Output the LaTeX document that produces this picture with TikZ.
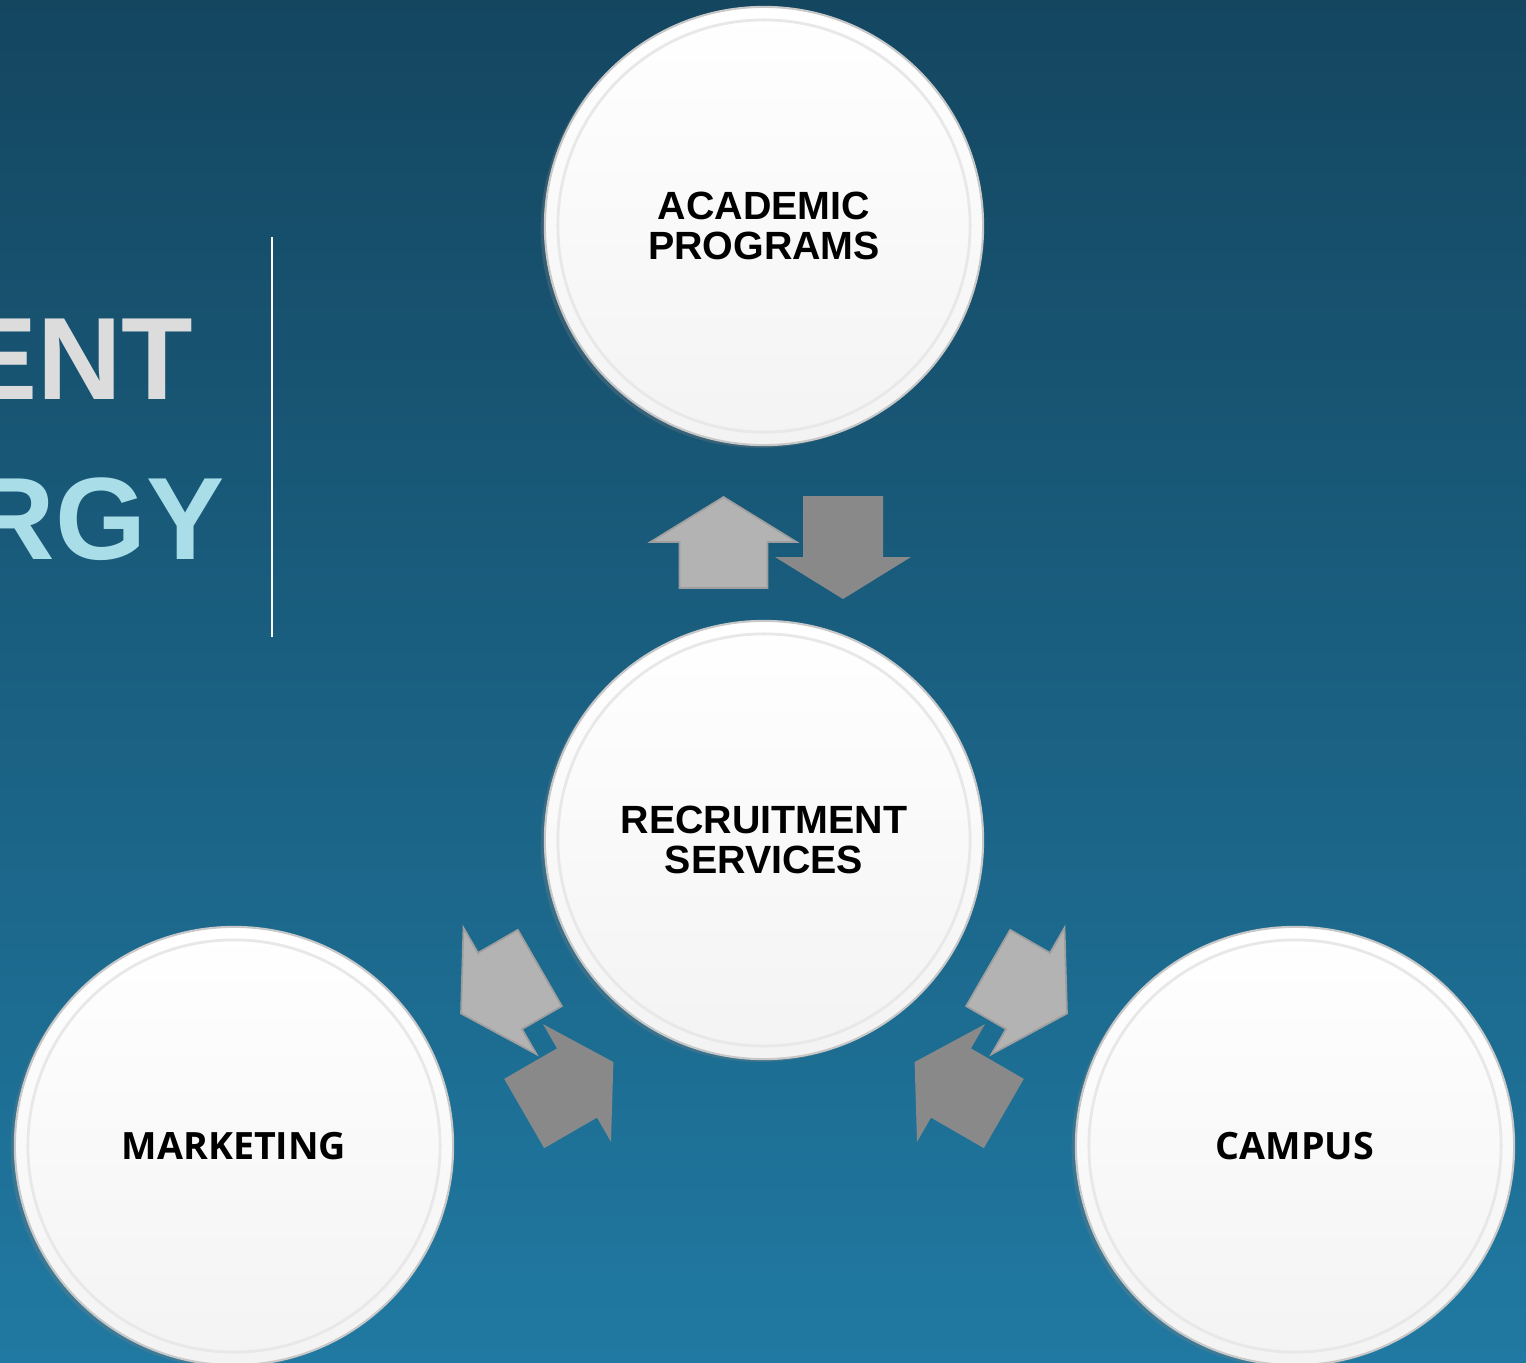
\documentclass[tikz,border=0pt]{standalone}
\usepackage{fontspec}
\setmainfont{Liberation Sans}
\newfontfamily\opensans{Open Sans}
\usetikzlibrary{calc}
\usetikzlibrary{shadows}
\definecolor{bgtop}{HTML}{144660}
\definecolor{bgmid}{HTML}{17506C}
\definecolor{bgbot}{HTML}{2079A2}
\definecolor{arrowlight}{HTML}{B3B3B3}
\definecolor{arrowrim}{HTML}{9E9E9E}
\definecolor{arrowdark}{HTML}{898989}
\definecolor{titlegray}{HTML}{DCDCDC}
\definecolor{titlecyan}{HTML}{A9DEE9}
\definecolor{circlebot}{HTML}{F3F3F3}
\definecolor{circleedge}{HTML}{C8C8C8}
\definecolor{circlerim}{HTML}{E8E8E8}
\newcommand{\arrowA}[3]{ \draw[draw=arrowrim, fill=arrowlight, line width=0.5pt, shift={(#1,#2)}, rotate=#3] (-46,44) -- (0,44) -- (0,73) -- (45,0) -- (0,-73) -- (0,-44) -- (-46,-44) -- cycle;}
\newcommand{\arrowB}[3]{ \fill[arrowdark, shift={(#1,#2)}, rotate=#3] (-61,40) -- (0,40) -- (0,68) -- (42,0) -- (0,-68) -- (0,-40) -- (-61,-40) -- cycle;}
\tikzset{
  bubble/.style={circle, minimum size=4.38cm, inner sep=0pt, top color=white, middle color=white, bottom color=circlebot, draw=circleedge, line width=0.6pt, align=center, text=black, drop shadow={shadow xshift=-1.2pt, shadow yshift=-0.8pt, opacity=0.3}},
  arialtext/.style={font=\bfseries\fontsize{11.2}{11.4}\selectfont},
  opentext/.style={font=\opensans\bfseries\fontsize{10.7}{12}\selectfont},
  title/.style={inner sep=0pt, font=\bfseries\fontsize{33.3}{40}\selectfont}
}

\begin{document}
\begin{tikzpicture}[x=0.01cm, y=-0.01cm]
        \useasboundingbox (0,0) rectangle (1526,1363);
        \clip (0,0) rectangle (1526,1363);
        \shade[top color=bgtop, middle color=bgmid, bottom color=bgbot] (0,0) rectangle (1526,1363);

        % title
        \node[title, text=titlegray, anchor=base east] (ent) at (194,399) {ENT};
        \node[title, text=titlecyan, anchor=base east] (rgy) at (225,559) {RGY};
        \draw[white, line width=0.5pt] (272,237) -- (272,637);

        % circles
        \node[bubble, arialtext] (acad) at (764,226) {ACADEMIC\\PROGRAMS};
        \node[bubble, arialtext] (recr) at (764,840) {RECRUITMENT\\SERVICES};
        \node[bubble, opentext] (mark) at (234,1146) {MARKETING};
        \node[bubble, opentext] (camp) at (1295,1146) {CAMPUS};
        \foreach \c in {acad,recr,mark,camp}
            \draw[circlerim, line width=0.8pt] (\c.center) circle (2.06cm);

        % arrows top
        \arrowA{723.5}{542}{90}
        \arrowB{843}{557}{-90}
        % arrows left
        \arrowA{500}{991}{-150}
        \arrowB{577}{1083}{30}
        % arrows right
        \arrowA{1028}{991}{-30}
        \arrowB{951}{1083}{150}
    \end{tikzpicture}
\end{document}
